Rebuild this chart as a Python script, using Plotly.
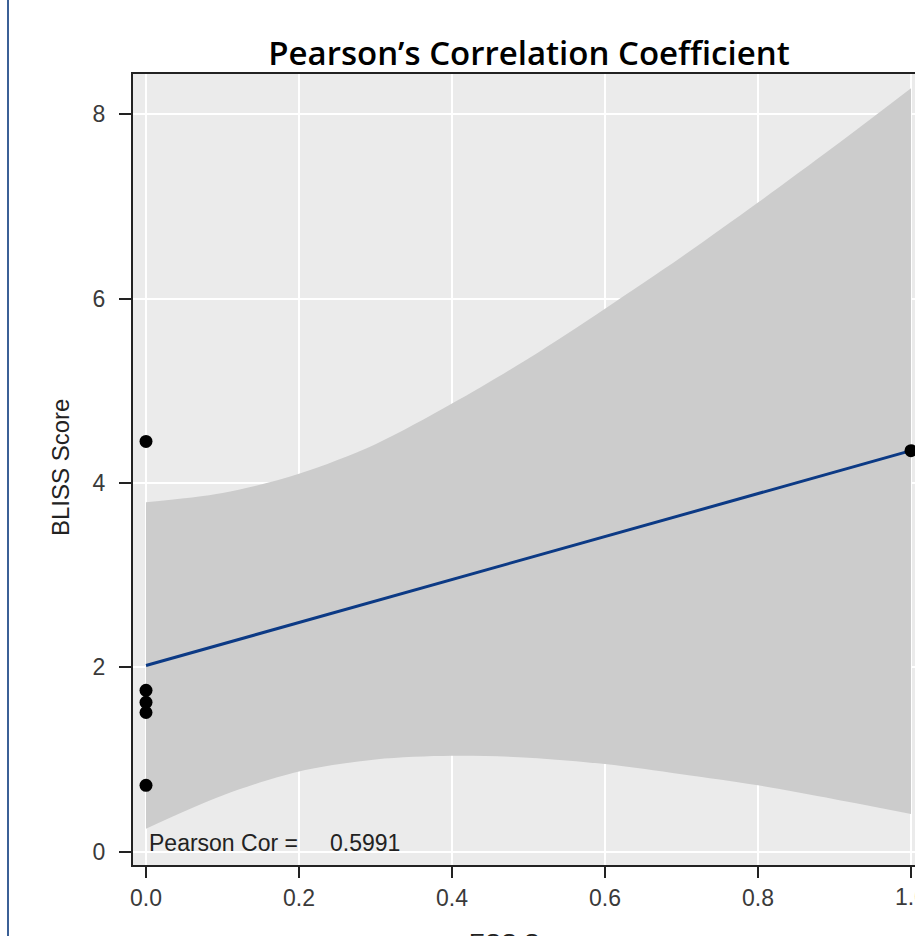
import plotly.graph_objects as go

# ---- data ----
ess_score = [0, 0, 0, 0, 0, 1]
bliss_score = [4.45, 1.75, 1.62, 1.51, 0.72, 4.35]

fit_x = [0, 1]
fit_y = [2.02, 4.35]

band_x = [0.0, 0.1, 0.2, 0.3, 0.4, 0.5, 0.6, 0.7, 0.8, 0.9, 1.0]
band_upper = [3.79, 3.89, 4.10, 4.42, 4.86, 5.35, 5.89, 6.45, 7.04, 7.65, 8.28]
band_lower = [0.25, 0.61, 0.87, 1.00, 1.04, 1.02, 0.95, 0.84, 0.72, 0.57, 0.41]

x_ticks = [0.0, 0.2, 0.4, 0.6, 0.8, 1.0]
x_tick_labels = ["0.0", "0.2", "0.4", "0.6", "0.8", "1.0"]
y_ticks = [0, 2, 4, 6, 8]
y_tick_labels = ["0", "2", "4", "6", "8"]

title_text = "Pearson’s Correlation Coefficient"
x_title = "ESS Score"
y_title = "BLISS Score"
cor_label = "Pearson Cor ="
cor_value = "0.5991"

# ---- figure ----
W, H = 915, 936
L, R, T, B = 133, 0, 74, 71
pw = W - L - R
ph = H - T - B

fig = go.Figure()

fig.add_trace(go.Scatter(
    x=band_x, y=band_lower, mode="lines",
    line=dict(width=0, shape="spline", smoothing=0.9),
    hoverinfo="skip", showlegend=False,
))
fig.add_trace(go.Scatter(
    x=band_x, y=band_upper, mode="lines",
    line=dict(width=0, shape="spline", smoothing=0.9),
    fill="tonexty", fillcolor="#cccccc",
    hoverinfo="skip", showlegend=False,
))

fig.add_trace(go.Scatter(
    x=fit_x, y=fit_y, mode="lines",
    line=dict(color="#0c3a85", width=3),
    showlegend=False,
))

fig.add_trace(go.Scatter(
    x=ess_score, y=bliss_score, mode="markers",
    marker=dict(color="black", size=13),
    showlegend=False, cliponaxis=False,
))

axis_font = dict(family="Liberation Sans, Arial, sans-serif", size=23, color="#3a3a3a")
text_font = dict(family="Liberation Sans, Arial, sans-serif", size=23, color="#222222")

# x tick labels except the last drawn by the axis; last one (cut by the edge) as annotation
shown_x_labels = x_tick_labels[:-1] + [""]

fig.update_layout(
    width=W, height=H,
    margin=dict(l=L, r=R, t=T, b=B, pad=0),
    paper_bgcolor="white",
    plot_bgcolor="#ebebeb",
    title=dict(
        text=title_text,
        x=(529 - L) / pw, xref="paper", xanchor="center",
        y=1 - 53 / H, yref="container", yanchor="middle",
        font=dict(family="Open Sans, Noto Sans, sans-serif", size=33, color="black", weight=600),
    ),
    xaxis=dict(
        range=[(L - 146) / 765, (W - 146) / 765],
        tickvals=x_ticks, ticktext=shown_x_labels,
        showgrid=True, gridcolor="white", gridwidth=1.5,
        zeroline=False,
        showline=True, linecolor="#222222", linewidth=2, mirror=True,
        ticks="outside", ticklen=11, tickwidth=2, tickcolor="#222222",
        tickfont=axis_font,
        automargin=False,
    ),
    yaxis=dict(
        range=[-(865 - 851.7) / 92.2, (851.7 - 74) / 92.2],
        tickvals=y_ticks, ticktext=y_tick_labels,
        showgrid=True, gridcolor="white", gridwidth=1.5,
        zeroline=False,
        showline=True, linecolor="#222222", linewidth=2, mirror=False,
        ticks="outside", ticklen=12, tickwidth=2, tickcolor="#222222",
        tickfont=axis_font, ticklabelstandoff=9,
        automargin=False,
    ),
    showlegend=False,
)

# last x tick label, partly outside the page as in the reference
fig.add_annotation(
    text=x_tick_labels[-1], xref="x", yref="paper",
    x=x_ticks[-1], y=(865 - 897) / ph,
    xanchor="center", yanchor="middle", showarrow=False,
    font=axis_font,
)

# y axis title
fig.add_annotation(
    text=y_title, xref="paper", yref="paper",
    x=(60 - L) / pw, y=(865 - 468) / ph,
    xanchor="center", yanchor="middle", textangle=-90,
    showarrow=False, font=dict(text_font, size=24),
)
# x axis title (cut off at the bottom in the reference)
fig.add_annotation(
    text=x_title, xref="paper", yref="paper",
    x=(527 - L) / pw, y=(865 - 942) / ph,
    xanchor="center", yanchor="middle",
    showarrow=False, font=dict(text_font, size=24),
)
# Pearson correlation text
fig.add_annotation(
    text=cor_label, xref="paper", yref="paper",
    x=(147 - L) / pw, y=(865 - 843) / ph,
    xanchor="left", yanchor="middle", showarrow=False,
    font=text_font,
)
fig.add_annotation(
    text=cor_value, xref="paper", yref="paper",
    x=(328 - L) / pw, y=(865 - 843) / ph,
    xanchor="left", yanchor="middle", showarrow=False,
    font=text_font,
)

# page border line at left
fig.add_shape(
    type="line", xref="paper", yref="paper",
    x0=(8 - L) / pw, x1=(8 - L) / pw, y0=-1, y1=2,
    line=dict(color="#3b6096", width=2),
)

fig.write_html(
    "out.html",
    config={"displayModeBar": False},
    post_script="document.body.style.margin='0';document.body.style.overflow='hidden';",
)
